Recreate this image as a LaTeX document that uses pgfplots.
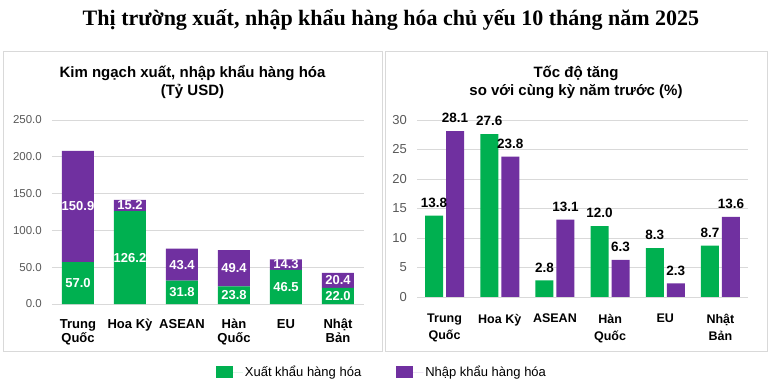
\documentclass[border=0pt]{standalone}
\usepackage{pgfplots}
\pgfplotsset{compat=1.18}
\usepackage{fontspec}
\setmainfont{Liberation Sans}
\newfontfamily\titlefont{Liberation Serif}
\definecolor{xk}{HTML}{00B050}
\definecolor{nk}{HTML}{7030A0}
\definecolor{gridc}{HTML}{D9D9D9}
\definecolor{tickc}{HTML}{595959}
\pgfplotsset{/pgf/number format/assume math mode=true}
\begin{document}
\begin{tikzpicture}[x=1pt,y=1pt]
\useasboundingbox (0,0) rectangle (770,385);
\fill[white] (0,0) rectangle (770,385);
\draw[gridc, line width=1pt] (3,33) rectangle (382,333);
\draw[gridc, line width=1pt] (385,33) rectangle (767,333);
\node[font=\titlefont\bfseries\fontsize{22}{26}\selectfont] at (391,365) {Thị trường xuất, nhập khẩu hàng hóa chủ yếu 10 tháng năm 2025};
\node[font=\bfseries\fontsize{15}{18}\selectfont, align=center] at (192.5,303) {Kim ngạch xuất, nhập khẩu hàng hóa\\(Tỷ USD)};
\node[font=\bfseries\fontsize{15}{18}\selectfont, align=center] at (576,303) {Tốc độ tăng\\so với cùng kỳ năm trước (\%)};

% Left: stacked bars
\begin{axis}[
 at={(52pt,81pt)}, anchor=south west, scale only axis, width=312pt, height=184pt,
 ybar stacked, bar width=32pt,
 xmin=-0.5, xmax=5.5, ymin=0, ymax=250,
 xtick={0,1,2,3,4,5},
 xticklabels={{Trung\\Quốc},{Hoa Kỳ},{ASEAN},{Hàn\\Quốc},{EU},{Nhật\\Bản}},
 xticklabel style={align=center, font=\bfseries\fontsize{13}{14}\selectfont, text=black, inner sep=0pt, yshift=-15pt},
 ytick={0,50,100,150,200,250},
 yticklabel style={font=\fontsize{11.5}{12}\selectfont, text=tickc, inner sep=0pt, xshift=-10pt,
   /pgf/number format/fixed, /pgf/number format/fixed zerofill, /pgf/number format/precision=1},
 ymajorgrids, grid style={gridc, line width=0.8pt},
 axis line style={draw=none}, major tick length=0pt,
 clip=false,
 legend style={at={(0.515,-0.37)}, anchor=west, draw=none, fill=none, legend columns=2,
   font=\fontsize{13}{15}\selectfont, /tikz/every even column/.append style={column sep=33pt}},
 legend image code/.code={\fill[#1] (0pt,-6pt) rectangle (17pt,6pt); \path (0pt,0pt) -- (27pt,0pt);},
]
\addplot[fill=xk, draw=none] coordinates {(0,57.0) (1,126.2) (2,31.8) (3,23.8) (4,46.5) (5,22.0)};
\addplot[fill=nk, draw=none] coordinates {(0,150.9) (1,15.2) (2,43.4) (3,49.4) (4,14.3) (5,20.4)};
\legend{Xuất khẩu hàng hóa, Nhập khẩu hàng hóa}
\end{axis}

% Left: labels centred in the segments
\begin{axis}[
 at={(52pt,81pt)}, anchor=south west, scale only axis, width=312pt, height=184pt,
 xmin=-0.5, xmax=5.5, ymin=0, ymax=250, hide axis, clip=false,
]
\addplot[draw=none, nodes near coords, point meta=explicit symbolic,
  nodes near coords style={anchor=center, text=white, font=\bfseries\fontsize{13}{14}\selectfont}]
  coordinates {(0,28.5)[57.0] (1,63.1)[126.2] (2,15.9)[31.8] (3,11.9)[23.8] (4,23.25)[46.5] (5,11.0)[22.0]};
\addplot[draw=none, nodes near coords, point meta=explicit symbolic,
  nodes near coords style={anchor=center, text=white, font=\bfseries\fontsize{13}{14}\selectfont}]
  coordinates {(0,132.45)[150.9] (1,133.8)[15.2] (2,53.5)[43.4] (3,48.5)[49.4] (4,53.65)[14.3] (5,32.2)[20.4]};
\end{axis}

% Right: grouped bars
\begin{axis}[
 at={(417pt,88pt)}, anchor=south west, scale only axis, width=331pt, height=177pt,
 ybar, bar width=18pt,
 xmin=-0.5, xmax=5.5, ymin=0, ymax=30,
 xtick={0,1,2,3,4,5},
 xticklabels={{Trung\\Quốc},{Hoa Kỳ},{ASEAN},{Hàn\\Quốc},{EU},{Nhật\\Bản}},
 xticklabel style={align=center, font=\bfseries\fontsize{12.5}{17}\selectfont, text=black, inner sep=0pt, yshift=-17pt},
 ytick={0,5,10,15,20,25,30},
 yticklabel style={font=\fontsize{13}{14}\selectfont, text=tickc, inner sep=0pt, xshift=-10pt},
 ymajorgrids, grid style={gridc, line width=0.8pt},
 axis line style={draw=none}, major tick length=0pt,
 clip=false,
 nodes near coords,
 nodes near coords style={text=black, font=\bfseries\fontsize{13.5}{14}\selectfont, inner sep=0pt, yshift=8pt,
   /pgf/number format/fixed, /pgf/number format/fixed zerofill, /pgf/number format/precision=1},
]
\addplot[fill=xk, draw=none, bar shift=-10.5pt] coordinates {(0,13.8) (1,27.6) (2,2.8) (3,12.0) (4,8.3) (5,8.7)};
\addplot[fill=nk, draw=none, bar shift=10.5pt] coordinates {(0,28.1) (1,23.8) (2,13.1) (3,6.3) (4,2.3) (5,13.6)};
\end{axis}
\end{tikzpicture}
\end{document}
